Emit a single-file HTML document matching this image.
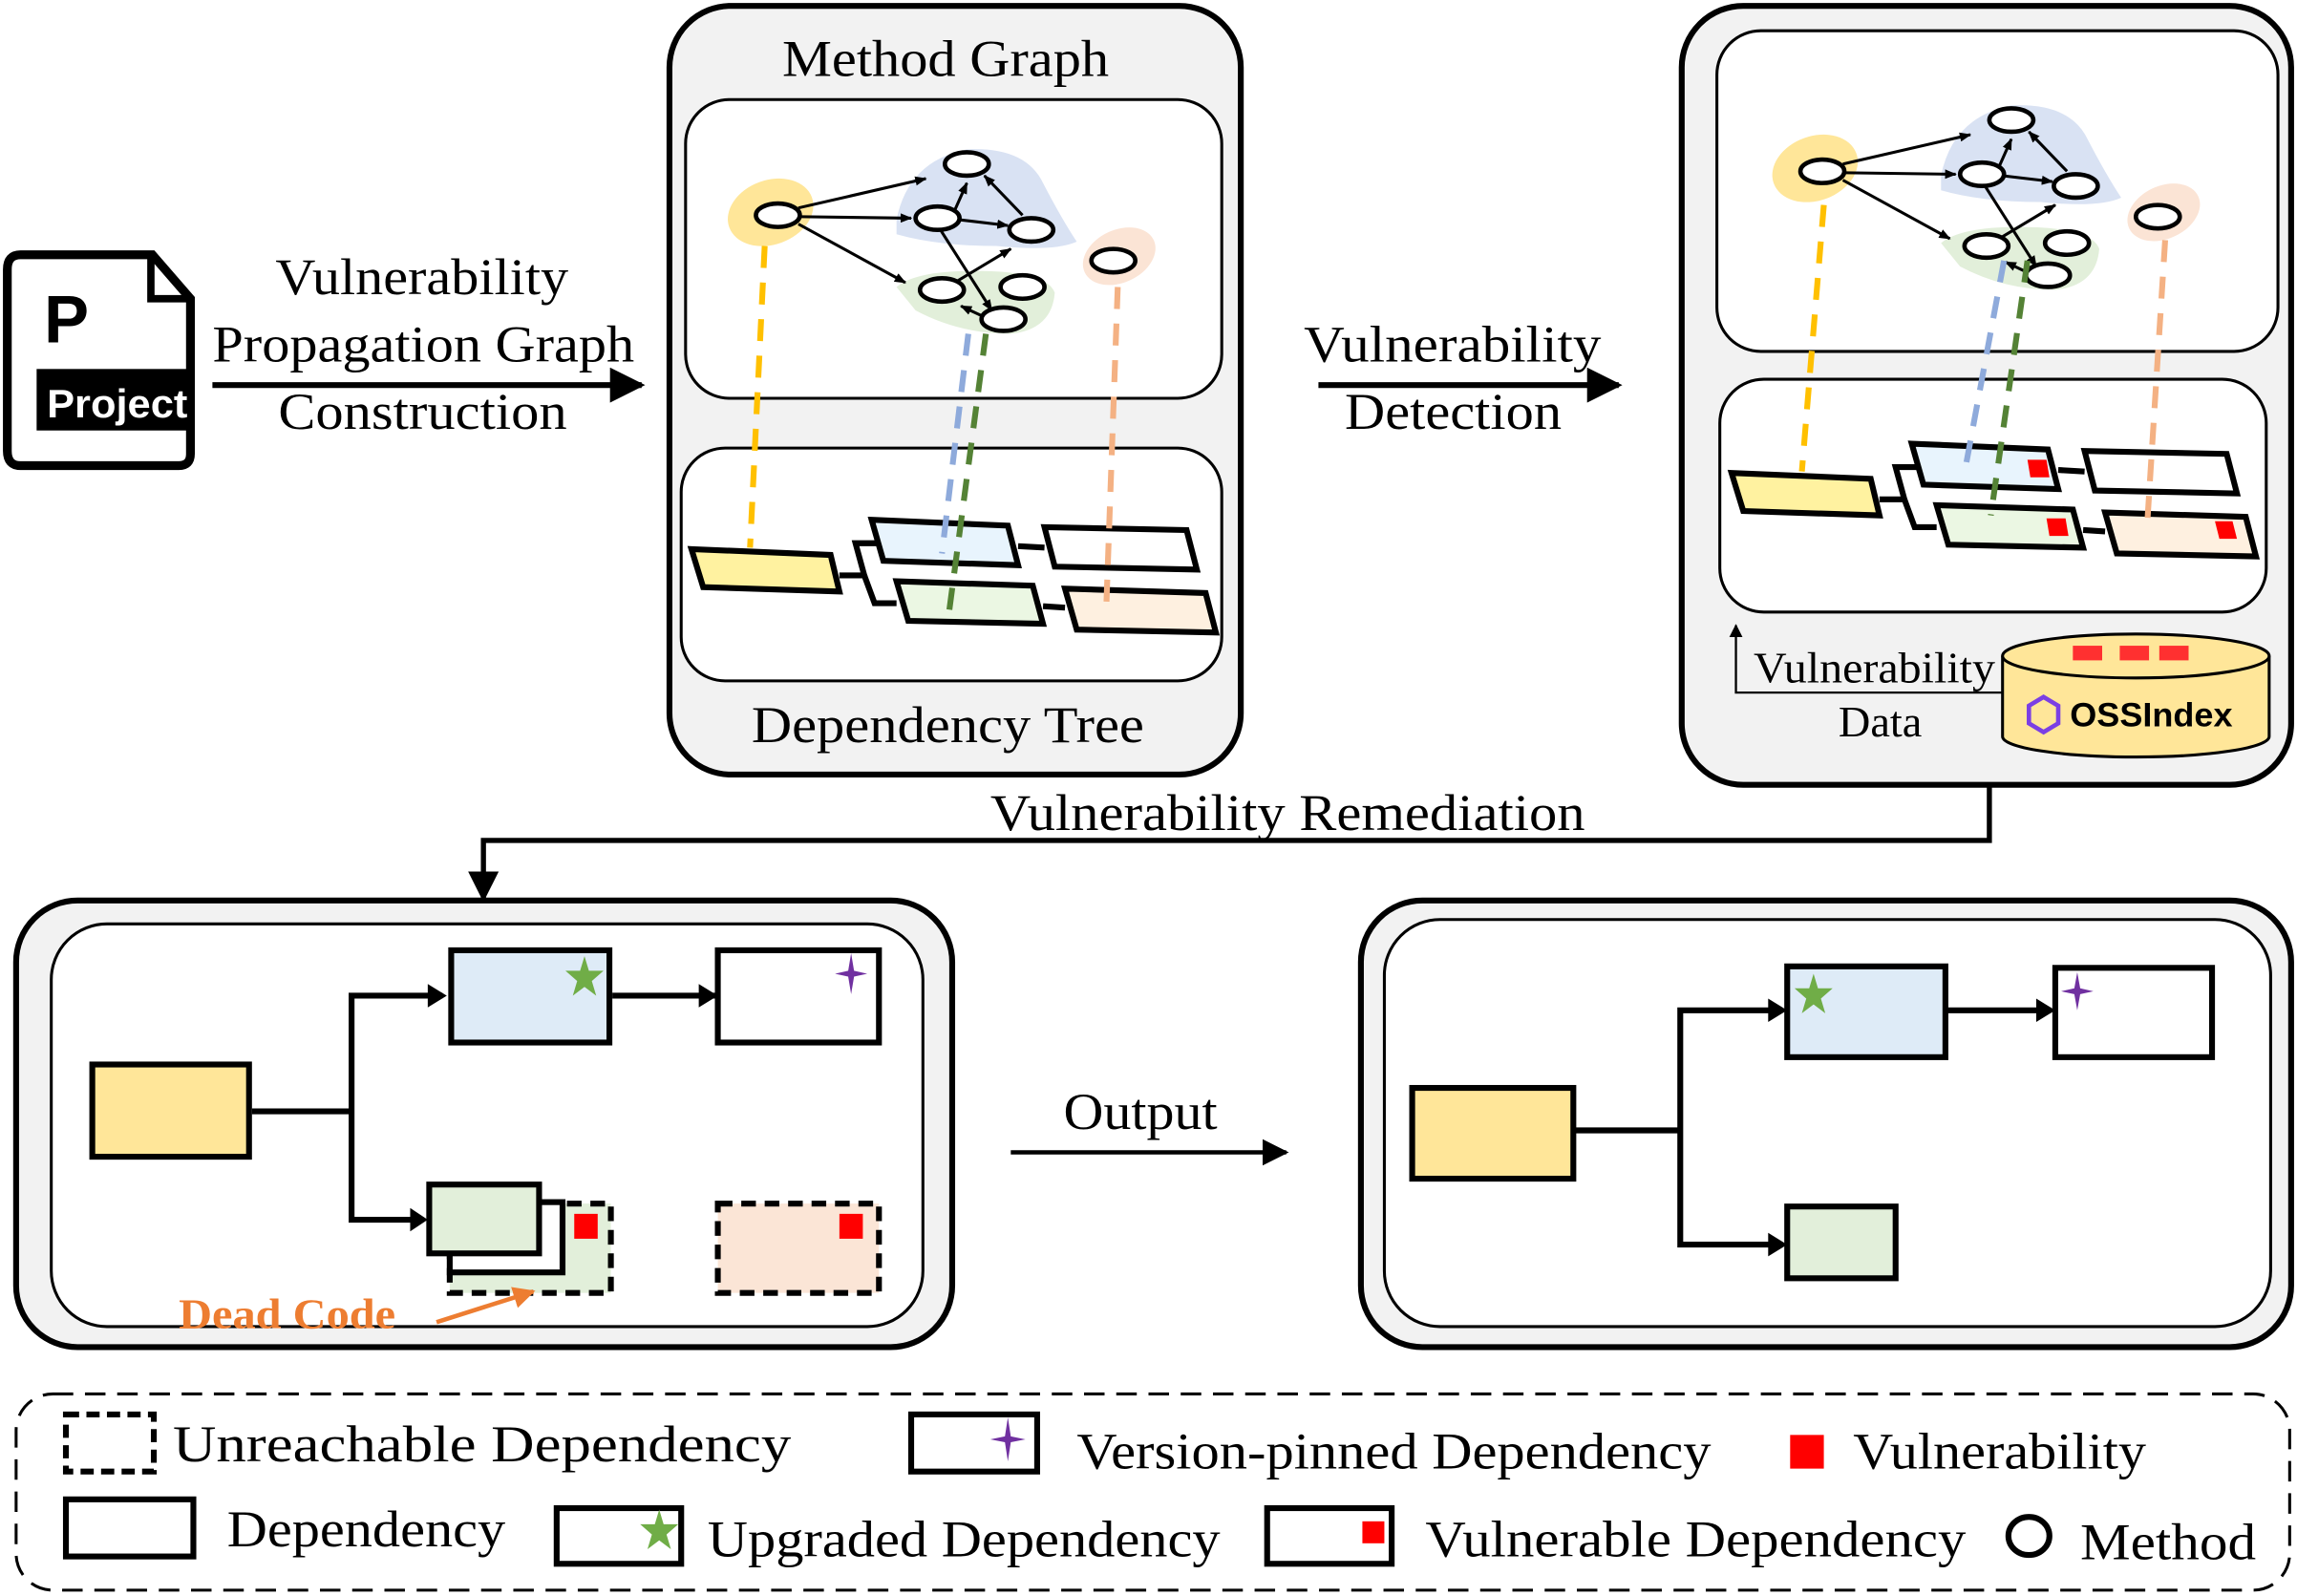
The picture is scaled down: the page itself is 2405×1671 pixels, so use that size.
<!DOCTYPE html>
<html><head><meta charset="utf-8"><style>html,body{margin:0;padding:0;background:#fff}svg{display:block}</style></head>
<body>
<svg xmlns="http://www.w3.org/2000/svg" width="2405" height="1671" viewBox="0 0 1568 1090" preserveAspectRatio="none" font-family="Liberation Serif, serif">
<defs>
<marker id="ah" viewBox="0 0 10 10" refX="9" refY="5" markerWidth="6" markerHeight="6" orient="auto"><path d="M0,0 L10,5 L0,10 Z" fill="#000"/></marker>
<marker id="ahs" viewBox="0 0 10 10" refX="9" refY="5" markerWidth="4" markerHeight="4" orient="auto"><path d="M0,1 L10,5 L0,9 Z" fill="#000"/></marker>
<marker id="aho" viewBox="0 0 10 10" refX="9" refY="5" markerWidth="5" markerHeight="5" orient="auto"><path d="M0,0 L10,5 L0,10 Z" fill="#ed7d31"/></marker>
<g id="graph">
<path d="M612,150 Q620,110 660,102 Q700,100 712,125 Q725,150 735,165 Q720,172 680,168 Q640,168 612,160 Z" fill="#d9e2f3"/>
<path d="M612,196 Q625,185 665,185 Q715,185 720,200 Q718,225 690,228 Q655,228 625,212 Z" fill="#e2efda"/>
<ellipse cx="526" cy="145" rx="30" ry="22" fill="#ffe699" transform="rotate(-20 526 145)"/>
<ellipse cx="764" cy="175" rx="26" ry="18" fill="#fbe4d5" transform="rotate(-25 764 175)"/>
<g stroke="#000" stroke-width="2" fill="none" marker-end="url(#ahs)">
<line x1="545" y1="142" x2="632" y2="122"/>
<line x1="547" y1="148" x2="622" y2="149"/>
<line x1="545" y1="153" x2="618" y2="193"/>
<line x1="652" y1="143" x2="660" y2="125"/>
<line x1="654" y1="150" x2="688" y2="154"/>
<line x1="698" y1="147" x2="672" y2="120"/>
<line x1="650" y1="194" x2="690" y2="170"/>
<line x1="642" y1="157" x2="677" y2="212"/>
<line x1="673" y1="217" x2="656" y2="209"/>
</g>
<g fill="#fff" stroke="#000" stroke-width="3">
<ellipse cx="531" cy="147" rx="15" ry="8"/>
<ellipse cx="660" cy="112" rx="15" ry="8"/>
<ellipse cx="640" cy="149" rx="15" ry="8"/>
<ellipse cx="704" cy="157" rx="15" ry="8"/>
<ellipse cx="643" cy="198" rx="15" ry="8"/>
<ellipse cx="698" cy="196" rx="15" ry="8"/>
<ellipse cx="685" cy="218" rx="15" ry="8"/>
<ellipse cx="760" cy="178" rx="15" ry="8"/>
</g>
</g>
<g id="tree" stroke="#000" stroke-width="4" stroke-linejoin="miter">
<polyline points="573,393 590,393 584,371 600,371" fill="none" stroke-width="4"/>
<polyline points="590,393 597,412 612,412" fill="none"/>
<line x1="695" y1="373" x2="713" y2="374" stroke-width="4"/>
<line x1="712" y1="414" x2="727" y2="415" stroke-width="4"/>
<polygon points="472,375 567,379 573,404 480,401" fill="#fff2a0"/>
<polygon points="595,355 688,359 695,386 603,383" fill="#e8f4fd"/>
<polygon points="713,360 810,362 817,389 720,387" fill="#fff"/>
<polygon points="612,397 705,400 712,426 620,424" fill="#ebf7e3"/>
<polygon points="727,402 823,405 830,432 735,430" fill="#fef0e0"/>
</g>
</defs>

<!-- Project icon -->
<path d="M14,174 L104,174 L130,204 L130,310 Q130,318 122,318 L14,318 Q5,318 5,308 L5,184 Q5,174 14,174 Z" fill="#fff" stroke="#000" stroke-width="6"/>
<path d="M103,174 L103,204 L130,204" fill="none" stroke="#000" stroke-width="5"/>
<rect x="25" y="252" width="107" height="42" fill="#000"/>
<text x="32" y="285" font-family="Liberation Sans, sans-serif" font-weight="bold" font-size="27" fill="#fff" textLength="96" lengthAdjust="spacingAndGlyphs">Project</text>
<text x="30" y="234" font-family="Liberation Sans, sans-serif" font-weight="bold" font-size="46" fill="#000">P</text>

<line x1="145" y1="263" x2="438" y2="263" stroke="#000" stroke-width="4" marker-end="url(#ah)"/>
<g font-size="35" lengthAdjust="spacingAndGlyphs">
<text x="188" y="201" textLength="200" lengthAdjust="spacingAndGlyphs">Vulnerability</text>
<text x="145" y="247" textLength="288" lengthAdjust="spacingAndGlyphs">Propagation Graph</text>
<text x="190" y="293" textLength="197" lengthAdjust="spacingAndGlyphs">Construction</text>
</g>

<!-- Box 1 -->
<rect x="457" y="4" width="390" height="525" rx="42" fill="#f2f2f2" stroke="#000" stroke-width="4"/>
<text x="534" y="52" font-size="35" textLength="223" lengthAdjust="spacingAndGlyphs">Method Graph</text>
<rect x="468" y="68" width="366" height="204" rx="30" fill="#fff" stroke="#000" stroke-width="2"/>
<rect x="465" y="306" width="369" height="159" rx="30" fill="#fff" stroke="#000" stroke-width="2"/>
<text x="513" y="507" font-size="35" textLength="268" lengthAdjust="spacingAndGlyphs">Dependency Tree</text>
<use href="#graph"/>
<use href="#tree"/>
<g stroke-width="4" stroke-dasharray="15,10" fill="none">
<line x1="522" y1="168" x2="512" y2="374" stroke="#ffc000"/>
<line x1="661" y1="228" x2="643" y2="378" stroke="#8eaadb"/>
<line x1="673" y1="228" x2="648" y2="417" stroke="#548235"/>
<line x1="763" y1="196" x2="755" y2="420" stroke="#f4b183"/>
</g>

<line x1="900" y1="263" x2="1105" y2="263" stroke="#000" stroke-width="4" marker-end="url(#ah)"/>
<text x="890" y="247" font-size="35" textLength="203" lengthAdjust="spacingAndGlyphs">Vulnerability</text>
<text x="918" y="293" font-size="35" textLength="148" lengthAdjust="spacingAndGlyphs">Detection</text>

<!-- Box 3 -->
<rect x="1148" y="4" width="416" height="532" rx="42" fill="#f2f2f2" stroke="#000" stroke-width="4"/>
<rect x="1172" y="21" width="383" height="219" rx="30" fill="#fff" stroke="#000" stroke-width="2"/>
<rect x="1174" y="259" width="373" height="159" rx="30" fill="#fff" stroke="#000" stroke-width="2"/>
<use href="#graph" transform="translate(713,-30)"/>
<use href="#tree" transform="translate(710,-52)"/>
<g fill="#f00">
<polygon points="1384,314 1397,314 1399,326 1386,326"/>
<polygon points="1397,354 1410,354 1412,366 1399,366"/>
<polygon points="1512,356 1524,356 1527,368 1515,368"/>
</g>
<g stroke-width="4" stroke-dasharray="15,10" fill="none">
<line x1="1245" y1="140" x2="1230" y2="322" stroke="#ffc000"/>
<line x1="1368" y1="178" x2="1341" y2="323" stroke="#8eaadb"/>
<line x1="1384" y1="178" x2="1359" y2="352" stroke="#548235"/>
<line x1="1478" y1="164" x2="1466" y2="354" stroke="#f4b183"/>
</g>
<!-- cylinder -->
<path d="M1367,448 L1367,503 A91,14 0 0 0 1549,503 L1549,448" fill="#ffe699" stroke="#000" stroke-width="2"/>
<ellipse cx="1458" cy="448" rx="91" ry="15" fill="#ffe699" stroke="#000" stroke-width="2"/>
<g fill="#ff3030"><rect x="1415" y="441" width="20" height="10"/><rect x="1447" y="441" width="20" height="10"/><rect x="1474" y="441" width="20" height="10"/></g>
<polygon points="1395,476 1405,482 1405,494 1395,500 1385,494 1385,482" fill="none" stroke="#7b3fe4" stroke-width="3"/>
<text x="1413" y="496" font-family="Liberation Sans, sans-serif" font-weight="bold" font-size="23" textLength="111" lengthAdjust="spacingAndGlyphs">OSSIndex</text>
<polyline points="1367,473 1185,473 1185,427" fill="none" stroke="#000" stroke-width="1.5" marker-end="url(#ah)"/>
<text x="1197" y="466" font-size="30" textLength="165" lengthAdjust="spacingAndGlyphs">Vulnerability</text>
<text x="1255" y="503" font-size="30" textLength="57" lengthAdjust="spacingAndGlyphs">Data</text>

<!-- Remediation -->
<polyline points="1358,537 1358,574 330,574 330,614" fill="none" stroke="#000" stroke-width="3.5" marker-end="url(#ah)"/>
<text x="676" y="567" font-size="35" textLength="406" lengthAdjust="spacingAndGlyphs">Vulnerability Remediation</text>

<!-- Box 4 -->
<rect x="11" y="615" width="639" height="305" rx="42" fill="#f2f2f2" stroke="#000" stroke-width="4"/>
<rect x="35" y="631" width="595" height="275" rx="38" fill="#fff" stroke="#000" stroke-width="2"/>
<g stroke="#000" stroke-width="4" fill="none">
<polyline points="172,759 240,759"/>
<polyline points="302,680 240,680 240,833 288,833"/>
<line x1="418" y1="680" x2="488" y2="680"/>
</g>
<path d="M292,672 L305,680 L292,688 Z M280,825 L292,833 L280,841 Z M477,672 L490,680 L477,688 Z" fill="#000"/>
<rect x="63" y="727" width="107" height="63" fill="#ffe699" stroke="#000" stroke-width="4"/>
<rect x="308" y="649" width="108" height="63" fill="#deebf7" stroke="#000" stroke-width="4"/>
<rect x="490" y="649" width="110" height="63" fill="#fff" stroke="#000" stroke-width="4"/>
<rect x="307" y="822" width="110" height="61" fill="#e2efda" stroke="#000" stroke-width="4" stroke-dasharray="10,6"/>
<rect x="307" y="821" width="77" height="48" fill="#fff" stroke="#000" stroke-width="4"/>
<rect x="293" y="809" width="75" height="47" fill="#e2efda" stroke="#000" stroke-width="4"/>
<rect x="392" y="829" width="16" height="17" fill="#f00"/>
<rect x="490" y="822" width="110" height="61" fill="#fbe5d6" stroke="#000" stroke-width="4" stroke-dasharray="10,6"/>
<rect x="573" y="829" width="16" height="17" fill="#f00"/>
<polygon points="399,653 402,663 412,663 404,670 407,680 399,674 391,680 394,670 386,663 396,663" fill="#70ad47"/>
<polygon points="581,651 583,663 592,665 583,667 581,679 579,667 570,665 579,663" fill="#7030a0"/>
<text x="122" y="907" font-size="29" font-weight="bold" fill="#ed7d31" textLength="148" lengthAdjust="spacingAndGlyphs">Dead Code</text>
<line x1="298" y1="903" x2="364" y2="882" stroke="#ed7d31" stroke-width="3" marker-end="url(#aho)"/>

<line x1="690" y1="787" x2="878" y2="787" stroke="#000" stroke-width="3" marker-end="url(#ah)"/>
<text x="726" y="771" font-size="35" textLength="105" lengthAdjust="spacingAndGlyphs">Output</text>

<!-- Box 5 -->
<rect x="929" y="615" width="635" height="305" rx="42" fill="#f2f2f2" stroke="#000" stroke-width="4"/>
<rect x="945" y="628" width="605" height="278" rx="38" fill="#fff" stroke="#000" stroke-width="2"/>
<g stroke="#000" stroke-width="4" fill="none">
<line x1="1074" y1="772" x2="1147" y2="772"/>
<polyline points="1215,690 1147,690 1147,850 1215,850"/>
<line x1="1328" y1="690" x2="1400" y2="690"/>
</g>
<path d="M1207,682 L1220,690 L1207,698 Z M1207,842 L1220,850 L1207,858 Z M1390,682 L1403,690 L1390,698 Z" fill="#000"/>
<rect x="964" y="743" width="110" height="62" fill="#ffe699" stroke="#000" stroke-width="4"/>
<rect x="1220" y="660" width="108" height="62" fill="#deebf7" stroke="#000" stroke-width="4"/>
<rect x="1403" y="661" width="107" height="61" fill="#fff" stroke="#000" stroke-width="4"/>
<rect x="1220" y="824" width="74" height="49" fill="#e2efda" stroke="#000" stroke-width="4"/>
<polygon points="1238,665 1241,675 1251,675 1243,682 1246,692 1238,686 1230,692 1233,682 1225,675 1235,675" fill="#70ad47"/>
<polygon points="1418,664 1420,675 1429,677 1420,679 1418,690 1416,679 1407,677 1416,675" fill="#7030a0"/>

<!-- Legend -->
<rect x="11" y="952" width="1552" height="134" rx="25" fill="#fff" stroke="#000" stroke-width="2" stroke-dasharray="14,8"/>
<rect x="45" y="966" width="60" height="39" fill="#fff" stroke="#000" stroke-width="4" stroke-dasharray="9,5"/>
<rect x="622" y="966" width="86" height="39" fill="#fff" stroke="#000" stroke-width="4"/>
<polygon points="688,968 690,981 700,983 690,985 688,998 686,985 676,983 686,981" fill="#7030a0"/>
<rect x="1222" y="980" width="23" height="23" fill="#f00"/>
<rect x="45" y="1024" width="87" height="39" fill="#fff" stroke="#000" stroke-width="4"/>
<rect x="380" y="1030" width="85" height="38" fill="#fff" stroke="#000" stroke-width="4"/>
<polygon points="450,1031 453,1041 463,1041 455,1048 458,1058 450,1052 442,1058 445,1048 437,1041 447,1041" fill="#70ad47"/>
<rect x="865" y="1030" width="85" height="38" fill="#fff" stroke="#000" stroke-width="4"/>
<rect x="930" y="1039" width="15" height="15" fill="#f00"/>
<ellipse cx="1385" cy="1049" rx="14" ry="13" fill="#fff" stroke="#000" stroke-width="4"/>
<g font-size="35">
<text x="118" y="998" textLength="422" lengthAdjust="spacingAndGlyphs">Unreachable Dependency</text>
<text x="735" y="1003" textLength="433" lengthAdjust="spacingAndGlyphs">Version-pinned Dependency</text>
<text x="1265" y="1003" textLength="200" lengthAdjust="spacingAndGlyphs">Vulnerability</text>
<text x="155" y="1056" textLength="190" lengthAdjust="spacingAndGlyphs">Dependency</text>
<text x="483" y="1063" textLength="350" lengthAdjust="spacingAndGlyphs">Upgraded Dependency</text>
<text x="973" y="1063" textLength="369" lengthAdjust="spacingAndGlyphs">Vulnerable Dependency</text>
<text x="1420" y="1065" textLength="120" lengthAdjust="spacingAndGlyphs">Method</text>
</g>
</svg>
</body></html>
